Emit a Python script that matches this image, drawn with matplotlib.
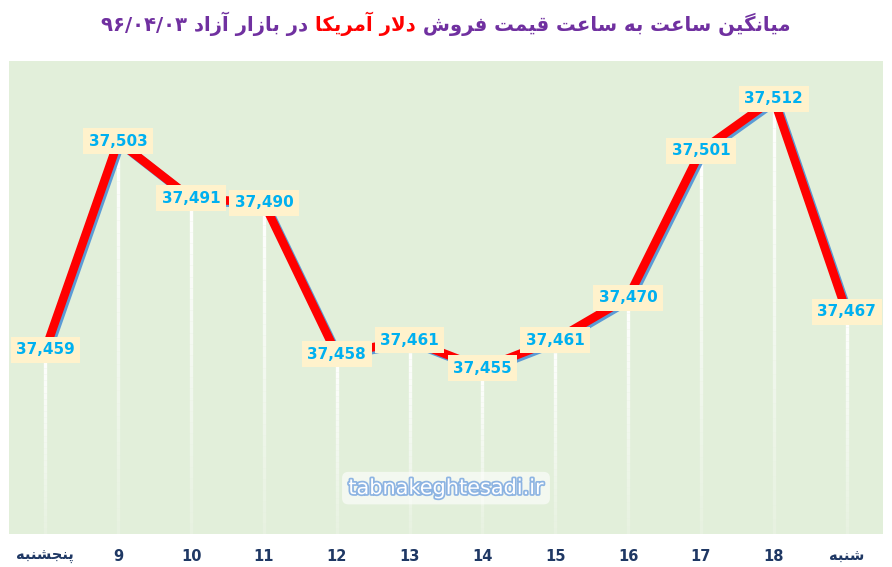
import re
import numpy as np
import matplotlib
matplotlib.use("Agg")
import matplotlib.pyplot as plt
import matplotlib.patheffects as pe

# ---------------- data ----------------
categories = ["پنجشنبه", "9", "10", "11", "12", "13", "14", "15", "16", "17", "18", "شنبه"]
values = [37459, 37503, 37491, 37490, 37458, 37461, 37455, 37461, 37470, 37501, 37512, 37467]
title_part1 = "میانگین ساعت به ساعت قیمت فروش "
title_part2 = "دلار آمریکا"
title_part3 = " در بازار آزاد ۹۶/۰۴/۰۳"
watermark = "tabnakeghtesadi.ir"
y_limits = (37420, 37520)

# ---------------- minimal Persian shaping (presentation forms + visual order) ----------------
FORMS = {
    'ا': ('\uFE8D', '\uFE8E', None, None),
    'آ': ('\uFE81', '\uFE82', None, None),
    'ب': ('\uFE8F', '\uFE90', '\uFE91', '\uFE92'),
    'پ': ('\uFB56', '\uFB57', '\uFB58', '\uFB59'),
    'ت': ('\uFE95', '\uFE96', '\uFE97', '\uFE98'),
    'ج': ('\uFE9D', '\uFE9E', '\uFE9F', '\uFEA0'),
    'د': ('\uFEA9', '\uFEAA', None, None),
    'ر': ('\uFEAD', '\uFEAE', None, None),
    'ز': ('\uFEAF', '\uFEB0', None, None),
    'س': ('\uFEB1', '\uFEB2', '\uFEB3', '\uFEB4'),
    'ش': ('\uFEB5', '\uFEB6', '\uFEB7', '\uFEB8'),
    'ع': ('\uFEC9', '\uFECA', '\uFECB', '\uFECC'),
    'ف': ('\uFED1', '\uFED2', '\uFED3', '\uFED4'),
    'ق': ('\uFED5', '\uFED6', '\uFED7', '\uFED8'),
    'ک': ('\uFB8E', '\uFB8F', '\uFB90', '\uFB91'),
    'گ': ('\uFB92', '\uFB93', '\uFB94', '\uFB95'),
    'ل': ('\uFEDD', '\uFEDE', '\uFEDF', '\uFEE0'),
    'م': ('\uFEE1', '\uFEE2', '\uFEE3', '\uFEE4'),
    'ن': ('\uFEE5', '\uFEE6', '\uFEE7', '\uFEE8'),
    'ه': ('\uFEE9', '\uFEEA', '\uFEEB', '\uFEEC'),
    'و': ('\uFEED', '\uFEEE', None, None),
    'ی': ('\uFBFC', '\uFBFD', '\uFBFE', '\uFBFF'),
}
LAM_ALEF = {'ا': ('\uFEFB', '\uFEFC'), 'آ': ('\uFEF5', '\uFEF6')}


def dual(c):
    return c in FORMS and FORMS[c][2] is not None


def shape(text):
    chars = list(text)
    out = []
    i = 0
    while i < len(chars):
        c = chars[i]
        prev = chars[i - 1] if i > 0 else ''
        joins_prev = dual(prev) and c in FORMS
        if c == 'ل' and i + 1 < len(chars) and chars[i + 1] in LAM_ALEF:
            iso, fin = LAM_ALEF[chars[i + 1]]
            out.append(fin if joins_prev else iso)
            i += 2
            continue
        if c not in FORMS:
            out.append(c)
            i += 1
            continue
        nxt = chars[i + 1] if i + 1 < len(chars) else ''
        joins_next = dual(c) and nxt in FORMS
        iso, fin, ini, med = FORMS[c]
        if joins_prev and joins_next:
            out.append(med)
        elif joins_prev:
            out.append(fin)
        elif joins_next:
            out.append(ini)
        else:
            out.append(iso)
        i += 1
    vis = ''.join(out)[::-1]
    vis = re.sub(r'[0-9۰-۹/]+', lambda m: m.group(0)[::-1], vis)
    return vis


def fa(text):
    return shape(text) if re.search(r'[\u0600-\u06FF]', text) else text


# ---------------- figure ----------------
W, H = 892, 567
fig = plt.figure(figsize=(W / 100, H / 100), dpi=100)
fig.patch.set_facecolor('white')
ax = fig.add_axes([9 / W, 1 - 534 / H, (883 - 9) / W, (534 - 61) / H])
ax.set_facecolor('#E2EFDA')
for s in ax.spines.values():
    s.set_visible(False)

x = np.arange(len(categories))
ax.set_xlim(-0.5, len(categories) - 0.5)
ax.set_ylim(*y_limits)
ax.set_yticks([])
ax.set_xticks(x)
ax.set_xticklabels([fa(c) for c in categories], fontsize=10.5, fontweight='bold',
                   color='#1F3864', family='DejaVu Sans')
ax.tick_params(axis='x', length=0, pad=11)

# fading white drop lines
nseg = 30
for xi, v in zip(x, values):
    ys = np.linspace(v, y_limits[0], nseg + 1)
    for k in range(nseg):
        a = 1.0 - 0.85 * (k / nseg)
        ax.plot([xi, xi], [ys[k], ys[k + 1]], color='white', lw=2.4, alpha=a,
                solid_capstyle='butt', zorder=2)

# main red line with blue shadow
ax.plot(x, values, color='#FF0000', lw=6.2, solid_joinstyle='miter', zorder=3,
        path_effects=[pe.SimpleLineShadow(offset=(1.6, -1.6), shadow_color='#5B9BD5', alpha=1.0),
                      pe.Normal()])

# data labels
for xi, v in zip(x, values):
    ax.text(xi, v, f"{v:,}", ha='center', va='center', fontsize=11, fontweight='bold',
            color='#00B0F0', zorder=5,
            bbox=dict(boxstyle='square,pad=0.36', facecolor='#FFF2CC', edgecolor='none'))

# watermark
ax.text(0.5, 0.097, watermark, transform=ax.transAxes, ha='center', va='center',
        fontsize=15, color='white', family='DejaVu Sans', zorder=4,
        path_effects=[pe.withStroke(linewidth=2.5, foreground='#8DB4E2')],
        bbox=dict(boxstyle='round,pad=0.3', facecolor='white', alpha=0.6, edgecolor='none'))

# title in three coloured parts, right-to-left
purple = '#7030A0'
red = '#FF0000'
parts = [(fa(title_part1), purple), (fa(title_part2), red), (fa(title_part3), purple)]
fs = 15
texts = [fig.text(0, 0, s, fontsize=fs, fontweight='bold', color=c, family='DejaVu Sans',
                  ha='right', va='baseline') for s, c in parts]
renderer = fig.canvas.get_renderer()
widths = [t.get_window_extent(renderer).width for t in texts]
target = 690.0
scale = target / sum(widths)
for t in texts:
    t.set_fontsize(fs * scale)
widths = [t.get_window_extent(renderer).width for t in texts]
total = sum(widths)
right = 446 + total / 2
base_y = 1 - 31 / H
cur = right
for t, w in zip(texts, widths):
    t.set_position((cur / W, base_y))
    cur -= w

fig.savefig('out.png', dpi=100, facecolor='white')
